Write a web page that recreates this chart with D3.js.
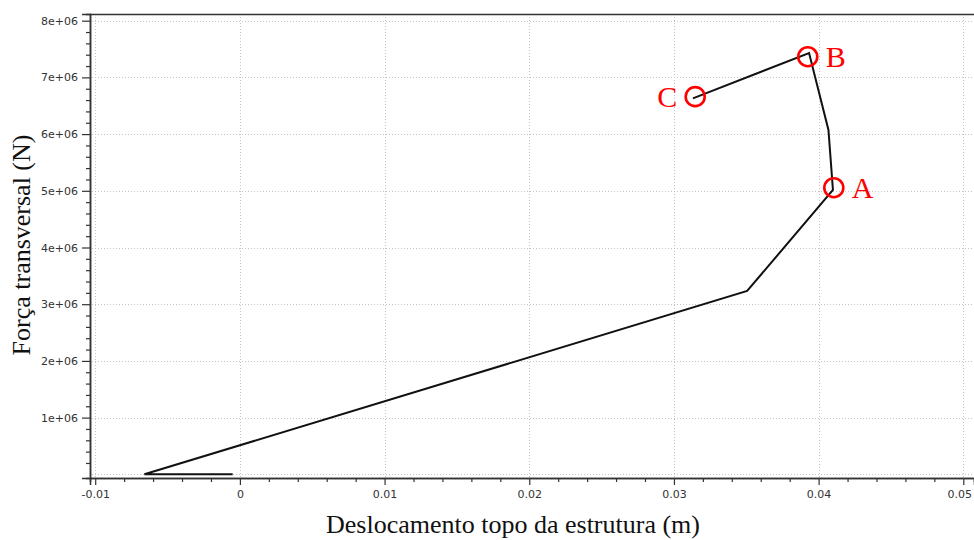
<!DOCTYPE html>
<html>
<head>
<meta charset="utf-8">
<script src="https://cdn.jsdelivr.net/npm/d3@7"></script>
<style>
  html, body { margin: 0; padding: 0; background: #fff; }
  svg { display: block; }
</style>
</head>
<body>
<svg id="chart" width="974" height="540"></svg>
<script>
// Pushover curve: top displacement (m) vs. transverse force (N)
const displacement = [-0.0005, -0.0066, 0.03506, 0.04099, 0.04068, 0.03934, 0.03131];
const force        = [0, 0, 3.233e6, 5.014e6, 6.072e6, 7.43e6, 6.631e6];

// Highlighted states
const markLabels = ["A", "B", "C"];
const markX      = [0.04105, 0.03925, 0.03147];
const markY      = [5.054e6, 7.365e6, 6.66e6];
const markSide   = ["right", "right", "left"];

// Axis ticks
const xTicks = [-0.01, 0, 0.01, 0.02, 0.03, 0.04, 0.05];
const xTickLabels = ["-0.01", "0", "0.01", "0.02", "0.03", "0.04", "0.05"];
const yTicks = [1e6, 2e6, 3e6, 4e6, 5e6, 6e6, 7e6, 8e6];
const yTickLabels = ["1e+06", "2e+06", "3e+06", "4e+06", "5e+06", "6e+06", "7e+06", "8e+06"];
const yGrid = [0, 1e6, 2e6, 3e6, 4e6, 5e6, 6e6, 7e6, 8e6];

const xTitle = "Deslocamento topo da estrutura (m)";
const yTitle = "Força transversal (N)";

const svg = d3.select("#chart");
const plotL = 90, plotT = 14, plotR = 974, plotB = 478;

const x = d3.scaleLinear().domain([-0.01036, 0.05074]).range([plotL, plotR]);
const y = d3.scaleLinear().domain([-65000, 8.118e6]).range([plotB, plotT]);

// minor tick positions
const xMinor = d3.range(-0.010, 0.0507, 0.002).map(v => +v.toFixed(4)).filter(v => !xTicks.some(t => Math.abs(t - v) < 1e-9));
const yMinor = d3.range(2e5, 8.1e6, 2e5).map(v => Math.round(v)).filter(v => v % 1e6 !== 0);

// grid
const grid = svg.append("g").attr("stroke", "#c4c4c4").attr("stroke-width", 1).attr("stroke-dasharray", "1,2");
grid.selectAll("line.v").data(xTicks).join("line")
  .attr("x1", d => Math.round(x(d)) + 0.5).attr("x2", d => Math.round(x(d)) + 0.5)
  .attr("y1", plotT).attr("y2", plotB);
grid.selectAll("line.h").data(yGrid).join("line")
  .attr("x1", plotL + 2).attr("x2", plotR)
  .attr("y1", d => Math.round(y(d)) + 0.5).attr("y2", d => Math.round(y(d)) + 0.5);

// top frame line
svg.append("line")
  .attr("x1", plotL).attr("x2", plotR).attr("y1", plotT + 0.5).attr("y2", plotT + 0.5)
  .attr("stroke", "#333").attr("stroke-width", 1.5);

const tickFont = "'DejaVu Sans', sans-serif";

// x axis
const gx = svg.append("g").attr("transform", `translate(0,${plotB})`);
gx.append("g").call(d3.axisBottom(x).tickValues(xMinor).tickSize(4).tickFormat(""));
gx.append("g").call(d3.axisBottom(x).tickValues(xTicks).tickSize(7)
  .tickFormat((d, i) => xTickLabels[i]).tickPadding(5));
gx.selectAll(".domain").attr("stroke", "#333").attr("stroke-width", 1.5);
gx.selectAll(".tick line").attr("stroke", "#333").attr("stroke-width", 1.2);
gx.selectAll("text").attr("font-family", tickFont).attr("font-size", 11).attr("fill", "#333");
// keep the rightmost label inside the canvas
gx.selectAll(".tick text").filter(d => x(d) > plotR - 15).attr("dx", -4);

// y axis
const gy = svg.append("g").attr("transform", `translate(${plotL},0)`);
gy.append("g").call(d3.axisLeft(y).tickValues(yMinor).tickSize(4).tickFormat(""));
gy.append("g").call(d3.axisLeft(y).tickValues(yTicks).tickSize(8)
  .tickFormat((d, i) => yTickLabels[i]).tickPadding(4));
gy.selectAll(".domain").attr("stroke", "#333").attr("stroke-width", 1.5);
gy.selectAll(".tick line").attr("stroke", "#333").attr("stroke-width", 1.2);
gy.selectAll("text").attr("font-family", tickFont).attr("font-size", 11).attr("fill", "#333");

// curve
const pts = displacement.map((d, i) => [d, force[i]]);
svg.append("path")
  .datum(pts)
  .attr("fill", "none")
  .attr("stroke", "#111")
  .attr("stroke-width", 2)
  .attr("stroke-linejoin", "miter")
  .attr("d", d3.line().x(d => x(d[0])).y(d => y(d[1])));

// highlighted states
const marks = markLabels.map((l, i) => ({ label: l, x: markX[i], y: markY[i], side: markSide[i] }));
const gm = svg.append("g");
gm.selectAll("circle").data(marks).join("circle")
  .attr("cx", d => x(d.x)).attr("cy", d => y(d.y)).attr("r", 9.5)
  .attr("fill", "none").attr("stroke", "#f00").attr("stroke-width", 2.6);
gm.selectAll("text").data(marks).join("text")
  .attr("x", d => x(d.x) + (d.side === "right" ? 18 : -18))
  .attr("y", d => y(d.y) + 10)
  .attr("text-anchor", d => d.side === "right" ? "start" : "end")
  .attr("font-family", "'Liberation Serif', 'Times New Roman', serif")
  .attr("font-size", 30)
  .attr("fill", "#f00")
  .text(d => d.label);

// axis titles
svg.append("text")
  .attr("x", 513).attr("y", 533)
  .attr("text-anchor", "middle")
  .attr("font-family", "'Liberation Serif', 'Times New Roman', serif")
  .attr("font-size", 26).attr("fill", "#111")
  .text(xTitle);
svg.append("text")
  .attr("transform", "translate(30,245) rotate(-90)")
  .attr("text-anchor", "middle")
  .attr("font-family", "'Liberation Serif', 'Times New Roman', serif")
  .attr("font-size", 26).attr("fill", "#111")
  .text(yTitle);
</script>
</body>
</html>
